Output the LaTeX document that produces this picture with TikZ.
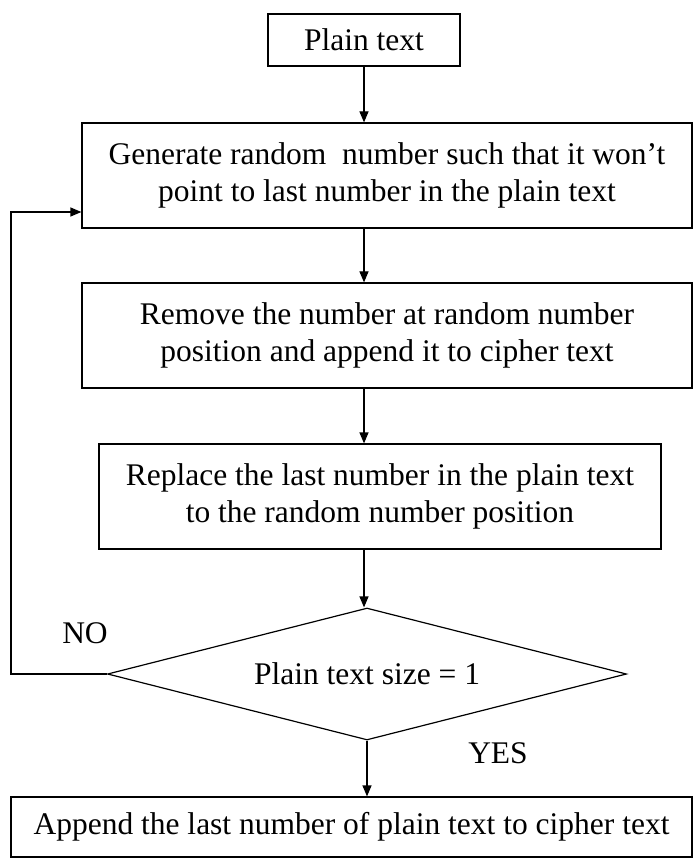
\documentclass[tikz,border=0pt]{standalone}
\usepackage{fontspec}
\setmainfont{Liberation Serif}
\usetikzlibrary{shapes.geometric,arrows.meta}

\tikzset{
  stepbox/.style={draw, line width=1.2pt, inner sep=0pt, align=center},
  flow/.style={line width=1.2pt, -{Triangle[length=11pt,width=9pt]}}
}

\begin{document}
\begin{tikzpicture}[x=1pt,y=-1pt,font=\fontsize{31.5}{37}\selectfont]
\useasboundingbox (0,0) rectangle (693,858);
% boxes
\node [stepbox, minimum width=192pt, minimum height=52pt] (plain) at (364,40) {Plain text};
\node [stepbox, minimum width=610pt, minimum height=105pt] (gen) at (387,175.5)
  {Generate random\ \ number such that it won't\\point to last number in the plain text};
\node [stepbox, minimum width=610pt, minimum height=105pt] (rem) at (387,335.5)
  {Remove the number at random number\\position and append it to cipher text};
\node [stepbox, minimum width=562pt, minimum height=105pt] (rep) at (380,496.5)
  {Replace the last number in the plain text\\to the random number position};
\node [stepbox, diamond, aspect=3.9, minimum width=519pt, minimum height=132pt] (dec) at (367,674)
  {Plain text size = 1};
\node [stepbox, minimum width=681pt, minimum height=60pt] (last) at (351.5,827)
  {Append the last number of plain text to cipher text};
% labels
\node (no) at (85,633) {NO};
\node (yes) at (498,753) {YES};
% connectors
\draw [flow] (plain.south) -- (plain.south |- gen.north);
\draw [flow] (gen.south -| plain.south) -- (rem.north -| plain.south);
\draw [flow] (rem.south -| plain.south) -- (rep.north -| plain.south);
\draw [flow] (rep.south -| plain.south) -- (dec.north -| plain.south);
\draw [flow] (dec.south) -- (dec.south |- last.north);
\coordinate (loop) at (11,674);
\draw [flow] (dec.west) -- (loop) |- ([yshift=-36.5pt]gen.west);
\end{tikzpicture}
\end{document}
